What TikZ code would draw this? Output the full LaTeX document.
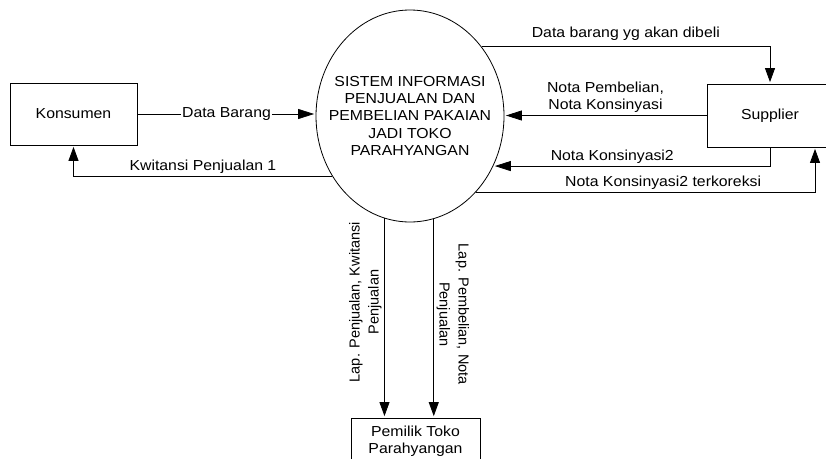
\documentclass[tikz,border=0pt]{standalone}
\usepackage{fontspec}
\setmainfont{Liberation Sans}[FakeStretch=1.09]
\newfontfamily\sidefont{Liberation Sans}
\usetikzlibrary{shapes.geometric, arrows.meta}

\begin{document}
\begin{tikzpicture}[x=1pt, y=-1pt,
  every node/.style={font=\fontsize{14.5}{17.3}\selectfont},
  entity/.style={draw, line width=0.8pt, rectangle, inner sep=2pt, align=center},
  process/.style={draw, line width=0.8pt, ellipse, inner sep=0pt},
  flow/.style={draw, line width=0.8pt, shorten >=1.5pt, -{Triangle[length=14pt, width=10pt]}},
  flowh/.style={flow, -{Triangle[length=16pt, width=10pt]}},
  tag/.style={fill=white, inner sep=1.5pt},
  over/.style={above, inner sep=2.5pt, align=center},
  sidetag/.style={font=\sidefont\fontsize{14.5}{19}\selectfont, inner sep=2.5pt, align=center, anchor=south}
]
\useasboundingbox (0,0) rectangle (826,458);
\clip (0,0) rectangle (826,458);

% external entities and the central process
\node[entity, minimum width=127pt, minimum height=62pt] (kons) at (73.5,114) {Konsumen};
\node[process, minimum width=188pt, minimum height=212pt] (sys) at (410,116) {};
\node[align=center, inner sep=0pt] (systext) at (sys.center)
  {SISTEM INFORMASI\\PENJUALAN DAN\\PEMBELIAN PAKAIAN\\JADI TOKO\\PARAHYANGAN};
\node[entity, minimum width=126pt, minimum height=63pt] (sup) at (770,115.5) {Supplier};
\node[entity, minimum width=129pt, minimum height=46pt] (own) at (415.5,441) {Pemilik Toko\\Parahyangan};

% customer flows
\draw[flowh] (kons.east) -- (kons.east -| sys.west) node[tag, midway] {Data Barang};
\draw[flow] (sys.218) -| (kons.south) node[over, pos=.25] {Kwitansi Penjualan 1};

% supplier flows
\draw[flow] (sys.44) -| (sup.north) node[over, pos=.25, inner sep=5.5pt] {Data barang yg akan dibeli};
\draw[flowh] (sup.west) -- (sup.west -| sys.east) node[over, midway] {Nota Pembelian,\\Nota Konsinyasi};
\draw[flowh] (sup.south) |- (sys.-31) node[over, pos=.785] {Nota Konsinyasi2};
\draw[flow] (sys.-49) -| ([xshift=45pt]sup.south) node[over, pos=.276] {Nota Konsinyasi2 terkoreksi};

% reports to the owner
\draw[flow] (sys.256) -- (sys.256 |- own.north)
  node[sidetag, pos=.42, rotate=90] {Lap. Penjualan, Kwitansi\\Penjualan};
\draw[flow] (sys.283) -- (sys.283 |- own.north)
  node[sidetag, pos=.48, rotate=-90] {Lap. Pembelian, Nota\\Penjualan};
\end{tikzpicture}
\end{document}
